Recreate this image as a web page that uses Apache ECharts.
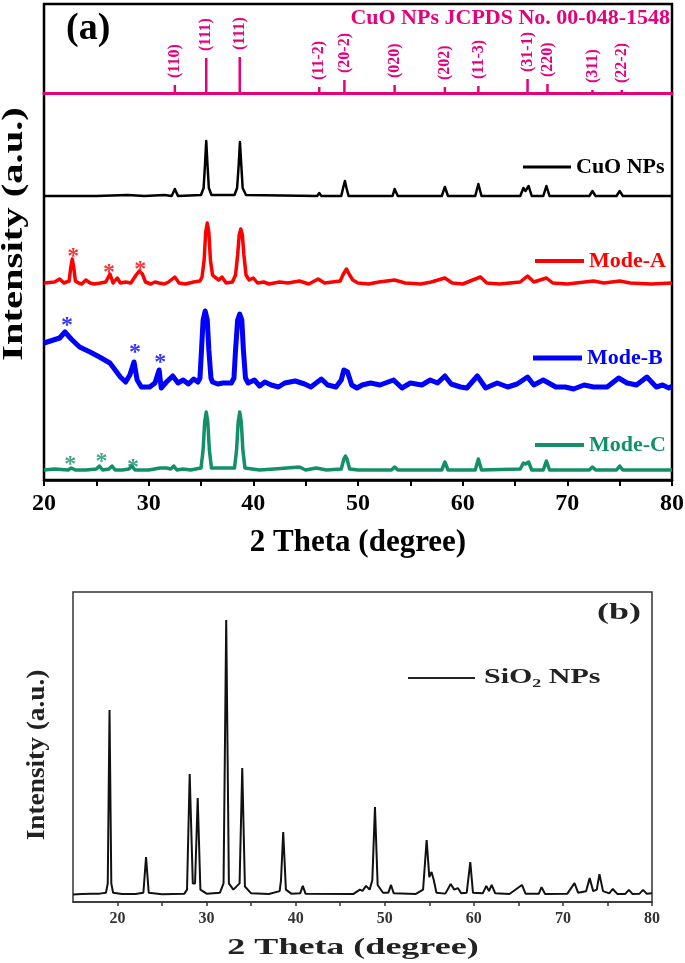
<!DOCTYPE html>
<html>
<head>
<meta charset="utf-8">
<script src="https://cdn.jsdelivr.net/npm/echarts@6/dist/echarts.min.js"></script>
<style>
  html, body { margin: 0; padding: 0; background: #fff; }
  #chart { width: 685px; height: 963px; }
</style>
</head>
<body>
<div id="chart"></div>
<script>
  // ---- panel (a): reference sticks, CuO NPs JCPDS 00-048-1548
  var stickPos = [32.5, 35.5, 38.7, 46.3, 48.7, 53.5, 58.3, 61.5, 66.2, 68.1, 72.4, 75.2];
  var stickInt = [8, 35, 36, 6, 13, 8, 6, 7, 14, 9, 3, 3];
  var stickHkl = ['(110)', '(111)', '(111)', '(11-2)', '(20-2)', '(020)', '(202)', '(11-3)', '(31-1)', '(220)', '(311)', '(22-2)'];

  // ---- panel (a): XRD patterns (2 theta, offset intensity a.u.)
  var cuoNps = [[20,284],[25,284],[28,285],[29.6,284],[31.5,285],[32.2,284],[32.5,291],[32.8,284],
    [35,285],[35.25,292],[35.38,315],[35.5,339],[35.62,315],[35.75,292],[36,285],
    [38.2,285],[38.45,292],[38.6,315],[38.72,338],[38.85,315],[38.98,292],[39.3,285],
    [46.1,284],[46.3,287],[46.5,284],[48.4,284],[48.6,293],[48.75,299],[48.9,292],[49.1,284],
    [53.3,284],[53.5,291],[53.8,284],[58,284],[58.3,293],[58.6,284],[61.2,284],[61.5,296],[61.8,284],[65.5,284],[65.8,292],[66,289],
    [66.3,294],[66.6,284],[67.7,284],[68,294],[68.3,284],[72.1,284],[72.4,289],[72.7,284],[74.7,284],[75,289],[75.3,284],[80,284]];
  var modeA = [[20,197],[21,198],[21.5,201],[21.9,197],[22.4,199],[22.55,212],[22.7,221],[22.85,212],[23,199],[23.3,197],[23.6,196],[24,200],[24.4,197],[24.8,196],
    [25.4,197],[25.9,198],[26.3,206],[26.6,197],[27,202],[27.3,197],[27.8,198],[28.3,197],[28.8,205],[29.1,209],[29.4,206],[29.7,198],
    [30.2,196],[30.6,198],[31,197],[31.5,196],[31.9,198],[32.5,203],[32.9,197],[33.5,196],[34.3,198],[34.9,199],
    [35.1,203],[35.3,220],[35.45,248],[35.6,257],[35.75,248],[35.9,220],[36.1,205],[36.3,203],
    [36.7,200],[37,203],[37.4,197],[38,198],[38.3,205],[38.5,225],[38.65,245],[38.8,251],[38.95,245],[39.1,225],[39.3,205],[39.6,200],[40,202],[40.4,197],[41,198],[41.5,196],[42,197],[42.5,198],
    [43.3,197],[44.4,199],[45.3,196],[46.2,201],[46.8,197],[48.3,199],[48.6,206],[48.9,211],[49.2,205],[49.5,200],[50,197],[51,196],[52,198],[53.5,200],
    [54.5,197],[56,196],[57,198],[58.3,202],[59,197],[60,196],[61.7,203],[62.3,197],[63.5,196],[65.5,198],[66.2,204],[66.8,198],
    [68,202],[68.6,197],[70,196],[72.5,199],[73.5,197],[75,199],[76,197],[78,196],[80,197]];
  var modeB = [[20,137],[20.9,140],[21.5,142],[22,148],[22.6,141],[23.4,133],[24.4,128],[25.3,123],[26.3,117],[27.3,103],[27.8,98],
    [28.2,105],[28.6,118],[28.9,100],[29.3,93],[30.1,93],[30.6,97],[31,110],[31.2,92],[31.7,98],[32.3,104],[32.8,97],[33.3,100],
    [33.8,96],[34.3,101],[34.7,98],[34.9,102],[35.05,130],[35.2,160],[35.4,169],[35.6,160],[35.75,130],[35.95,102],[36.1,98],[36.6,96],[37.1,97],[37.9,97],
    [38.15,102],[38.3,130],[38.5,160],[38.7,166],[38.9,160],[39.05,130],[39.25,102],
    [39.5,97],[40.1,100],[40.6,94],[41.1,98],[41.7,95],[42.4,93],[43,97],[44,99],[44.9,96],[45.5,93],[46.5,101],[47.1,95],
    [47.9,93],[48.4,100],[48.65,110],[48.8,112],[49,108],[49.4,95],[49.9,92],[50.4,95],[51.2,97],[52.1,95],[53.4,100],[54.2,92],[55,97],[56.1,95],
    [56.9,100],[57.6,97],[58.3,104],[58.9,96],[59.8,93],[60.4,92],[61.4,104],[62.2,92],[63.3,97],[64.3,93],[65.2,96],[66.2,103],
    [66.8,95],[67.7,100],[68.9,93],[69.8,93],[70.6,91],[71.6,95],[72.5,93],[73.8,93],[74.9,102],[75.7,97],[76.6,95],[77.6,103],
    [78.5,93],[79.1,95],[79.7,92],[80,94]];
  var modeC = [[20,10],[21,11],[22.3,10],[22.6,12],[23,10],[24,10],[25,11],[25.3,14],[25.6,10],[26.2,11],[26.5,14],[26.8,10],[27.5,10],
    [28.1,11],[28.4,14],[28.7,10],[30,10],[31.1,12],[31.7,12],[32.1,11],[32.4,14],[32.7,10],[33.3,11],[34,10],
    [35,12],[35.2,30],[35.35,58],[35.5,68],[35.65,58],[35.8,30],[36,12],
    [38.2,12],[38.4,30],[38.55,58],[38.7,68],[38.85,58],[39,30],[39.2,12],
    [40.6,10],[42,11],[44.4,13],[45,10],[46,12],[47,10],
    [48.4,11],[48.65,21],[48.8,24],[48.95,21],[49.2,11],[50,10],[53.2,10],[53.5,13],[53.8,10],[58,10],[58.3,18],[58.6,10],[61.2,10],[61.5,21],[61.8,10],
    [65.5,11],[65.8,17],[66,16],[66.3,18],[66.6,10],[67.7,10],[68,19],[68.3,10],[72.1,10],[72.4,13],[72.7,10],[74.7,10],[75,14],
    [75.3,10],[80,10]];

  // impurity marks (*)
  var starsA = [[22.8, 228], [26.2, 212], [29.2, 215]];
  var starsB = [[22.2, 159], [28.7, 132], [31.1, 122]];
  var starsC = [[22.5, 20], [25.5, 23], [28.5, 17]];

  // ---- panel (b): SiO2 NPs
  var sio2 = [[15,24],[16,26],[17,27],[18,27],[18.7,30],[18.9,60],[19.1,619],[19.3,60],[19.5,30],[20.5,26],[22,26],[22.9,30],[23.2,145],
    [23.5,30],[25,25],[27.5,27],[27.8,40],[28.1,413],[28.45,60],[28.7,60],[29,335],[29.3,40],[30,27],[31.5,30],[31.9,60],[32.2,910],
    [32.5,60],[33,40],[33.7,60],[34,432],[34.3,50],[35,28],[37,26],[38.2,35],[38.35,70],[38.6,226],[38.9,40],[39.5,27],[40.5,28],
    [40.8,52],[41.1,27],[46.5,26],[47.2,40],[47.5,36],[47.9,52],[48.3,40],[48.6,70],[48.9,306],[49.2,55],[49.4,60],[49.8,30],
    [50.4,30],[50.7,55],[51,28],[53.5,26],[54.3,40],[54.7,200],[55,80],[55.25,97],[55.5,71],[55.8,30],[56.8,27],[57.4,58],[57.8,40],
    [58.2,45],[58.6,28],[59.2,30],[59.6,129],[59.9,30],[61,28],[61.4,52],[61.7,35],[62,55],[62.4,28],[64,26],[65.4,55],[65.8,27],
    [67.3,27],[67.6,48],[68,26],[70.5,27],[71.3,61],[71.7,30],[72.6,35],[73,77],[73.4,35],[73.8,40],[74.1,90],[74.5,35],[75.2,28],
    [75.6,42],[76.1,26],[77,26],[77.4,39],[77.8,26],[78.6,27],[79,39],[79.4,27],[80,28]];

  var serif = '"Liberation Serif", "DejaVu Serif", serif';
  var pink = '#e5007e';
  var green = '#13906a';

  var chart = echarts.init(document.getElementById('chart'));

  function starSeries(data, color) {
    return {
      type: 'scatter', xAxisIndex: 1, yAxisIndex: 1, data: data,
      symbolSize: 2, itemStyle: { color: 'rgba(0,0,0,0)' }, silent: true,
      label: { show: true, position: 'inside', offset: [0, 5], formatter: '*', color: color,
        fontFamily: serif, fontWeight: 'bold', fontSize: 24 }
    };
  }
  function traceSeries(name, data, color, width) {
    return {
      name: name, type: 'line', xAxisIndex: 1, yAxisIndex: 1, data: data,
      showSymbol: false, symbol: 'none', lineStyle: { color: color, width: width, join: 'round' },
      itemStyle: { color: color }
    };
  }
  function legendFor(name, left, top, w, h, color, size) {
    return {
      data: [name], left: left, top: top, padding: 0, icon: 'rect',
      itemWidth: w, itemHeight: h, selectedMode: false,
      textStyle: { color: color, fontFamily: serif, fontWeight: 'bold', fontSize: size }
    };
  }
  // stretched text, the figure's lettering is scaled unevenly
  function stretchedText(str, x, y, size, sx, sy, rot, color) {
    return {
      type: 'text', x: x, y: y, rotation: rot, scaleX: sx, scaleY: sy, silent: true,
      style: { text: str, fill: color, fontFamily: serif, fontWeight: 'bold', fontSize: size,
        textAlign: 'center', textVerticalAlign: 'middle', align: 'center', verticalAlign: 'middle' }
    };
  }

  chart.setOption({
    animation: false,
    backgroundColor: '#fff',
    title: [
      { text: '(a)', left: 66, top: 10, padding: 0,
        textStyle: { fontFamily: serif, fontWeight: 'bold', fontSize: 38, color: '#000' } },
      { text: 'CuO NPs JCPDS No. 00-048-1548', right: 15, top: 7, padding: 0,
        textStyle: { fontFamily: serif, fontWeight: 'bold', fontSize: 22, color: pink } }
    ],
    legend: [
      legendFor('CuO NPs', 523, 156, 48, 3, '#000', 22),
      legendFor('Mode-A', 535, 250, 49, 4, '#ff0000', 22),
      legendFor('Mode-B', 533, 347, 49, 5, '#0000ff', 22),
      legendFor('Mode-C', 535, 434, 49, 4, green, 22)
    ],
    graphic: [
      stretchedText('Intensity (a.u.)', 15, 234, 29, 1.4, 1, Math.PI / 2, '#000'),
      stretchedText('2 Theta (degree)', 353, 948, 24, 1.5, 1, 0, '#222'),
      stretchedText('Intensity (a.u.)', 37, 755, 21, 1.3, 1.2, Math.PI / 2, '#222'),
      stretchedText('(b)', 619, 613, 24, 1.5, 1, 0, '#222'),
      { type: 'line', silent: true, shape: { x1: 408, y1: 678, x2: 475, y2: 678 },
        style: { stroke: '#222', lineWidth: 1.8 } },
      { type: 'text', x: 484, y: 678, scaleX: 1.5, silent: true,
        style: { text: 'SiO₂ NPs', fill: '#222', fontFamily: serif, fontWeight: 'bold', fontSize: 20,
          textAlign: 'left', textVerticalAlign: 'middle', align: 'left', verticalAlign: 'middle' } }
    ],
    grid: [
      { left: 44, top: 4, width: 628, height: 476, show: true, borderColor: '#000', borderWidth: 2.5,
        backgroundColor: 'transparent', outerBoundsMode: 'none' },
      { left: 44, top: 93, width: 628, height: 387, outerBoundsMode: 'none' },
      { left: 73, top: 592, width: 579, height: 310, show: true, borderColor: '#333', borderWidth: 1.5,
        backgroundColor: 'transparent', outerBoundsMode: 'none' }
    ],
    xAxis: [
      { gridIndex: 0, type: 'value', min: 20, max: 80,
        axisLine: { show: true, onZero: true, lineStyle: { color: pink, width: 3 } },
        axisTick: { show: false }, axisLabel: { show: false }, splitLine: { show: false } },
      { gridIndex: 1, type: 'value', min: 20, max: 80, interval: 5,
        name: '2 Theta (degree)', nameLocation: 'middle', nameGap: 47,
        nameTextStyle: { fontFamily: serif, fontWeight: 'bold', fontSize: 31, color: '#000' },
        axisLine: { show: true, lineStyle: { color: '#000', width: 2.5 } },
        axisTick: { show: true, length: 6, lineStyle: { color: '#000', width: 2 } },
        axisLabel: { margin: 12, fontFamily: serif, fontWeight: 'bold', fontSize: 24, color: '#000',
          formatter: function (v) { return v % 10 === 0 ? String(v) : ''; } },
        splitLine: { show: false } },
      { gridIndex: 2, type: 'value', min: 15, max: 80, interval: 5,
        axisLine: { show: true, lineStyle: { color: '#333', width: 1.5 } },
        axisTick: { show: true, length: 4, lineStyle: { color: '#333', width: 1.5 } },
        axisLabel: { margin: 9, fontFamily: serif, fontWeight: 'bold', fontSize: 16, color: '#333',
          showMinLabel: false,
          formatter: function (v) { return Math.round(v) % 10 === 0 ? String(Math.round(v)) : ''; } },
        splitLine: { show: false } }
    ],
    yAxis: [
      { gridIndex: 0, type: 'value', min: -387, max: 89, show: false },
      { gridIndex: 1, type: 'value', min: 0, max: 387, show: false },
      { gridIndex: 2, type: 'value', min: 0, max: 1000, show: false }
    ],
    series: [
      {
        name: 'JCPDS', type: 'bar', xAxisIndex: 0, yAxisIndex: 0, barWidth: 2.5,
        data: stickPos.map(function (p, i) { return [p, stickInt[i]]; }),
        itemStyle: { color: pink },
        label: { show: true, position: 'top', distance: 7, rotate: 90, align: 'left', verticalAlign: 'middle',
          fontFamily: serif, fontWeight: 'bold', fontSize: 16, color: pink,
          formatter: function (p) { return stickHkl[p.dataIndex]; } }
      },
      traceSeries('CuO NPs', cuoNps, '#000', 2.5),
      traceSeries('Mode-A', modeA, '#ff0000', 3.5),
      traceSeries('Mode-B', modeB, '#0000ff', 5),
      traceSeries('Mode-C', modeC, green, 3.5),
      starSeries(starsA, '#ff0000'),
      starSeries(starsB, '#0000ff'),
      starSeries(starsC, green),
      {
        name: 'SiO₂ NPs', type: 'line', xAxisIndex: 2, yAxisIndex: 2, data: sio2,
        showSymbol: false, symbol: 'none', lineStyle: { color: '#111', width: 2 }, itemStyle: { color: '#111' }
      }
    ]
  });
</script>
</body>
</html>
